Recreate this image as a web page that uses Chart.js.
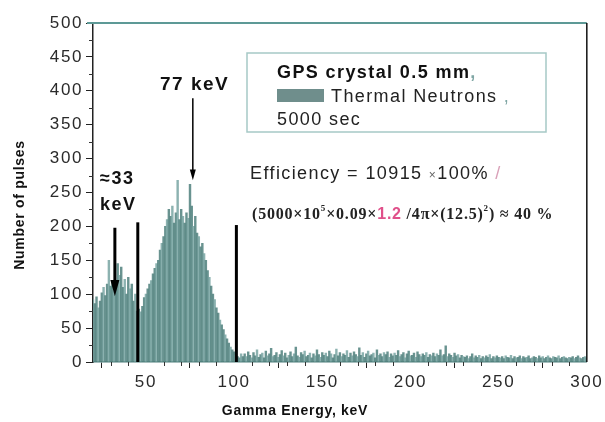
<!DOCTYPE html>
<html>
<head>
<meta charset="utf-8">
<script src="https://cdn.jsdelivr.net/npm/chart.js@4/dist/chart.umd.min.js"></script>
<style>
  body { margin: 0; background: #fff; }
  #wrap { width: 605px; height: 422px; }
</style>
</head>
<body>
<div id="wrap"><canvas id="spectrumChart" width="605" height="422"></canvas></div>
<script>
// first bin energy (keV), bins are 1 keV wide
const firstBin = 20;

// pulse counts per 1 keV bin, 20..105 keV
const peakCounts = [
  92, 86, 96, 80, 90, 102, 110, 98, 115, 150,
  112, 120, 105, 118, 145, 128, 140, 110, 122, 100,
  125, 108, 115, 90, 100, 75, 78, 74, 82, 95,
  100, 108, 115, 120, 130, 138, 145, 150, 165, 175,
  185, 200, 210, 225, 215, 230, 205, 220, 268, 210,
  225, 215, 205, 220, 212, 262, 230, 200, 215, 190,
  185, 170, 175, 160, 150, 135, 125, 112, 100, 92,
  80, 72, 62, 55, 48, 40, 34, 28, 22, 18,
  15, 10, 8, 6, 12, 8
];

// 106..230 keV
const midCounts = [
  12, 8, 15, 10, 6, 14, 9, 18, 7, 11, 13, 6, 16, 9, 12, 20, 8, 10, 14, 7,
  11, 17, 9, 13, 6, 10, 15, 8, 12, 22, 9, 7, 14, 11, 16, 8, 10, 13, 6, 12,
  9, 18, 11, 7, 14, 10, 13, 8, 16, 12, 6, 11, 19, 9, 14, 8, 12, 10, 17, 7,
  13, 9, 15, 11, 8, 21, 10, 14, 7, 12, 16, 9, 11, 13, 6, 18, 10, 12, 8, 14,
  11, 15, 7, 12, 9, 13, 10, 17, 8, 11, 14, 6, 12, 16, 9, 10, 13, 7, 15, 11,
  8, 12, 10, 14, 7, 11, 9, 13, 8, 12, 10, 18, 9, 11, 24, 8, 12, 10, 7, 13, 9, 11, 6, 10, 8
];

// 231..300 keV
const tailCounts = [
  7, 9, 5, 8, 12, 6, 9, 7, 10, 5, 8, 6, 9, 7, 11, 5, 8, 6, 9, 7,
  6, 8, 5, 9, 7, 6, 10, 5, 8, 6, 7, 9, 5, 8, 6, 7, 9, 5, 6, 8,
  7, 5, 9, 6, 8, 5, 7, 9, 6, 5, 8, 7, 6, 9, 5, 7, 8, 6, 5, 7,
  6, 8, 5, 7, 9, 6, 5, 7, 8, 6
];

// vertical marker lines: energy (keV) and top (counts)
const markerEnergies = [45.4, 101.3];
const markerTops = [206, 202];

// annotation arrows: energy, start count, end count
const arrowEnergies = [32.4, 76.6];
const arrowFrom = [198, 389];
const arrowTo = [97, 268];

const allCounts = peakCounts.concat(midCounts, tailCounts);
const points = allCounts.map((c, i) => ({ x: firstBin + i, y: c }));

const sans = "'Liberation Sans', Arial, sans-serif";
const serif = "'Liberation Serif', 'Times New Roman', serif";

function arrow(ctx, x, y1, y2, w, head) {
  ctx.lineWidth = w;
  ctx.beginPath();
  ctx.moveTo(x, y1);
  ctx.lineTo(x, y2 - head * 1.5);
  ctx.stroke();
  ctx.beginPath();
  ctx.moveTo(x - head / 2, y2 - head * 1.8);
  ctx.lineTo(x + head / 2, y2 - head * 1.8);
  ctx.lineTo(x, y2);
  ctx.closePath();
  ctx.fill();
}

// draws pieces of text one after another, returns end x
function pieces(ctx, x, y, parts) {
  parts.forEach(p => {
    ctx.font = p.font;
    ctx.fillStyle = p.color || '#222';
    ctx.fillText(p.t, x, y + (p.dy || 0));
    x += ctx.measureText(p.t).width;
  });
  return x;
}

const decor = {
  id: 'decor',
  beforeDraw(chart) {
    // reference lettering is rather wide
    chart.ctx.letterSpacing = '1.6px';
  },
  afterDraw(chart) {
    const ctx = chart.ctx;
    const a = chart.chartArea;
    const xs = chart.scales.x, ys = chart.scales.y;
    ctx.save();

    // top and right frame
    ctx.strokeStyle = '#5d9996';
    ctx.lineWidth = 2;
    ctx.beginPath();
    ctx.moveTo(a.left - 6, a.top);
    ctx.lineTo(a.right, a.top);
    ctx.stroke();
    ctx.strokeStyle = '#111';
    ctx.lineWidth = 1.5;
    ctx.beginPath();
    ctx.moveTo(a.right, a.top);
    ctx.lineTo(a.right, a.bottom);
    ctx.stroke();

    // minor ticks
    ctx.strokeStyle = '#333';
    ctx.lineWidth = 1;
    for (let v = 25; v < 500; v += 50) {
      const py = Math.round(ys.getPixelForValue(v)) + 0.5;
      ctx.beginPath();
      ctx.moveTo(a.left - 4, py);
      ctx.lineTo(a.left, py);
      ctx.stroke();
    }
    for (let v = 30; v < 300; v += 10) {
      if (v % 50 === 0) continue;
      const px = Math.round(xs.getPixelForValue(v)) + 0.5;
      ctx.beginPath();
      ctx.moveTo(px, a.bottom);
      ctx.lineTo(px, a.bottom + 4);
      ctx.stroke();
    }

    // marker lines
    ctx.strokeStyle = '#000';
    ctx.lineWidth = 3;
    markerEnergies.forEach((e, i) => {
      const px = xs.getPixelForValue(e);
      ctx.beginPath();
      ctx.moveTo(px, ys.getPixelForValue(markerTops[i]));
      ctx.lineTo(px, a.bottom);
      ctx.stroke();
    });

    // arrows
    ctx.fillStyle = '#000';
    arrow(ctx, xs.getPixelForValue(arrowEnergies[0]), ys.getPixelForValue(arrowFrom[0]), ys.getPixelForValue(arrowTo[0]), 3, 9);
    arrow(ctx, xs.getPixelForValue(arrowEnergies[1]), ys.getPixelForValue(arrowFrom[1]), ys.getPixelForValue(arrowTo[1]), 1.5, 6);

    // peak labels
    ctx.letterSpacing = '1.5px';
    ctx.fillStyle = '#111';
    ctx.textBaseline = 'alphabetic';
    ctx.textAlign = 'left';
    ctx.font = 'bold 19px ' + sans;
    ctx.fillText('77 keV', 160, 90);
    ctx.font = 'bold 18px ' + sans;
    ctx.fillText('\u224833', 100, 184);
    ctx.fillText('keV', 100, 210);

    // legend box
    ctx.strokeStyle = '#a6c9c6';
    ctx.lineWidth = 1.5;
    ctx.strokeRect(247, 53, 299, 79);
    ctx.letterSpacing = '1.4px';
    pieces(ctx, 277, 78, [
      { t: 'GPS crystal 0.5 mm', font: 'bold 18px ' + sans, color: '#111' },
      { t: ',', font: 'bold 18px ' + sans, color: '#7fa6a4' }
    ]);
    ctx.fillStyle = '#6f8e8c';
    ctx.fillRect(277, 89, 47, 13);
    pieces(ctx, 331, 102, [
      { t: 'Thermal Neutrons ', font: '18px ' + sans, color: '#222' },
      { t: ',', font: '18px ' + sans, color: '#7fa6a4' }
    ]);
    ctx.font = '18px ' + sans;
    ctx.fillStyle = '#222';
    ctx.fillText('5000 sec', 277, 125);

    // efficiency formula
    pieces(ctx, 250, 179, [
      { t: 'Efficiency = 10915 ', font: '18px ' + sans },
      { t: '\u00d7', font: '12px ' + sans, color: '#666' },
      { t: '100% ', font: '18px ' + sans },
      { t: '/', font: '18px ' + sans, color: '#d9a0b8' }
    ]);
    ctx.letterSpacing = '0.8px';
    const f = 'bold 16px ' + serif;
    pieces(ctx, 252, 219, [
      { t: '(5000\u00d710', font: f },
      { t: '5', font: 'bold 9px ' + serif, dy: -8 },
      { t: '\u00d70.09\u00d7', font: f },
      { t: '1.2', font: 'bold 16px ' + sans, color: '#e0508a' },
      { t: ' /4\u03c0\u00d7(12.5)', font: f },
      { t: '2', font: 'bold 9px ' + serif, dy: -8 },
      { t: ') \u2248 40 %', font: f }
    ]);

    // axis titles
    ctx.letterSpacing = '0.7px';
    ctx.fillStyle = '#111';
    ctx.font = 'bold 14px ' + sans;
    ctx.textAlign = 'center';
    ctx.fillText('Gamma Energy, keV', 295, 415);
    ctx.translate(24, 205);
    ctx.rotate(-Math.PI / 2);
    ctx.fillText('Number of pulses', 0, 0);

    ctx.restore();
  }
};

const ctx = document.getElementById('spectrumChart').getContext('2d');
const spectrumChart = new Chart(ctx, {
  type: 'bar',
  data: {
    datasets: [{
      label: 'Thermal Neutrons',
      data: points,
      backgroundColor: c => (c.dataIndex % 3 === 0 ? 'rgba(120, 165, 162, 0.85)' : 'rgba(84, 132, 129, 0.88)'),
      borderWidth: 0,
      barPercentage: 1,
      categoryPercentage: 1
    }]
  },
  options: {
    responsive: false,
    animation: false,
    layout: { padding: { top: 23, right: 17, left: 0, bottom: 0 } },
    plugins: {
      legend: { display: false },
      tooltip: { enabled: false }
    },
    scales: {
      x: {
        type: 'linear',
        min: 20,
        max: 300,
        offset: false,
        border: { color: '#4f7f7c', width: 1.5 },
        grid: { drawOnChartArea: false, tickLength: 6, color: '#222' },
        ticks: {
          stepSize: 50,
          includeBounds: false,
          padding: 4,
          color: '#2a2a2a',
          font: { family: sans, size: 17 }
        },
        afterFit: s => { s.height = 60; }
      },
      y: {
        min: 0,
        max: 500,
        border: { color: '#222', width: 1.5 },
        grid: { drawOnChartArea: false, tickLength: 7, color: '#222' },
        ticks: {
          stepSize: 50,
          padding: 3,
          color: '#2a2a2a',
          font: { family: sans, size: 17 }
        },
        afterFit: s => { s.width = 93; }
      }
    }
  },
  plugins: [decor]
});
</script>
</body>
</html>
